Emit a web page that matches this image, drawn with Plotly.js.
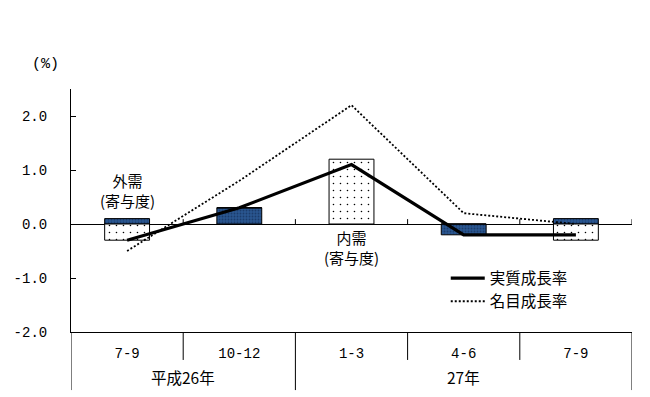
<!DOCTYPE html>
<html>
<head>
<meta charset="utf-8">
<script src="https://cdn.plot.ly/plotly-3.0.1.min.js"></script>
<style>html,body{margin:0;padding:0;background:#fff;}#chart{width:650px;height:397px;}</style>
</head>
<body>
<div id="chart"></div>
<script>
// Data
var quarters = ['7-9', '10-12', '1-3', '4-6', '7-9'];
var years = ['平成26年', '27年'];
var externalDemand = [0.1, 0.3, 0.0, -0.2, 0.1];   // 外需（寄与度）
var domesticDemand = [-0.3, 0.0, 1.2, 0.0, -0.3];  // 内需（寄与度）
var realGrowth = [-0.3, 0.3, 1.1, -0.2, -0.2];     // 実質成長率
var nominalGrowth = [-0.5, 0.8, 2.2, 0.2, 0.0];    // 名目成長率
var yTicks = [-2, -1, 0, 1, 2];

var xs = quarters.map(function (q, i) { return i; });
var JP = '"Noto Sans CJK JP", "DejaVu Sans", sans-serif';
var MONO = '"Liberation Mono", "DejaVu Sans Mono", monospace';
var FSJ = 15.5;

var traces = [
  {
    type: 'bar', x: xs, y: externalDemand, name: '外需', showlegend: false,
    width: 0.4,
    marker: { color: '#27528a', line: { color: '#000', width: 1 },
      pattern: { shape: '.', fgcolor: '#1b3c6b', bgcolor: '#2a5690', size: 3, solidity: 0.3 } },
    hoverinfo: 'skip'
  },
  {
    type: 'bar', x: xs, y: domesticDemand, name: '内需', showlegend: false,
    width: 0.4,
    marker: { color: '#fff', line: { color: '#000', width: 1 },
      pattern: { shape: '.', fgcolor: '#000', bgcolor: '#fff', size: 7, solidity: 0.04 } },
    hoverinfo: 'skip'
  },
  {
    type: 'scatter', mode: 'lines', x: xs, y: realGrowth, name: '実質成長率',
    line: { color: '#000', width: 3.2 }
  },
  {
    type: 'scatter', mode: 'lines', x: xs, y: nominalGrowth, name: '名目成長率',
    line: { color: '#000', width: 1.8, dash: '2px,2px' }
  }
];

var shapes = [];
[0.5, 2.5, 3.5].forEach(function (v) {
  shapes.push({ type: 'line', xref: 'x', yref: 'paper', x0: v, x1: v, y0: 0, y1: -0.115, line: { color: '#000', width: 1 } });
});
[-0.5, 1.5, 4.5].forEach(function (v) {
  shapes.push({ type: 'line', xref: 'x', yref: 'paper', x0: v, x1: v, y0: 0, y1: -0.239, line: { color: '#000', width: 1 } });
});
[0.5, 1.5, 2.5, 3.5, 4.5].forEach(function (v) {
  shapes.push({ type: 'line', xref: 'x', yref: 'y', x0: v, x1: v, y0: 0, y1: 0.09, line: { color: '#000', width: 1 } });
});

function ann(xref, yref, x, y, text, font) {
  return { xref: xref, yref: yref, x: x, y: y, text: text, showarrow: false, xanchor: 'center', yanchor: 'middle',
    font: font };
}
var jpFont = { size: FSJ, family: JP, color: '#000' };
var annotations = [
  ann('paper', 'paper', -0.045, 1.10, '(%)', { size: 15, family: MONO, color: '#000' }),
  ann('x', 'y', 0, 0.62, '外需<br>(寄与度)', { size: 15, family: JP, color: '#000' }),
  ann('x', 'y', 2, -0.43, '内需<br>(寄与度)', { size: 15, family: JP, color: '#000' }),
  ann('x', 'paper', 0.5, -0.185, years[0], jpFont),
  ann('x', 'paper', 3, -0.185, years[1], jpFont)
];

var layout = {
  width: 650, height: 397,
  margin: { l: 71, r: 18, t: 89, b: 65 },
  paper_bgcolor: '#fff', plot_bgcolor: '#fff',
  barmode: 'relative',
  showlegend: true,
  legend: { x: 0.668, y: 0.29, xanchor: 'left', yanchor: 'top', bgcolor: 'rgba(0,0,0,0)',
    font: { size: FSJ, family: JP, color: '#000' }, tracegroupgap: 0, itemwidth: 34 },
  xaxis: {
    range: [-0.5, 4.5], tickvals: xs, ticktext: quarters, showgrid: false, zeroline: false,
    showline: true, linecolor: '#000', linewidth: 1, ticks: '', ticklabelstandoff: 8,
    tickfont: { size: 14, family: MONO, color: '#000' }, fixedrange: true
  },
  yaxis: {
    range: [-2, 2.5], tickvals: yTicks, ticktext: yTicks.map(function (v) { return v.toFixed(1); }),
    showgrid: false, zeroline: true, zerolinecolor: '#000', zerolinewidth: 1,
    showline: true, linecolor: '#000', linewidth: 1, ticks: 'inside', ticklen: 5, tickcolor: '#000',
    ticklabelstandoff: 20,
    tickfont: { size: 14, family: MONO, color: '#000' }, fixedrange: true
  },
  shapes: shapes,
  annotations: annotations
};

Plotly.newPlot('chart', traces, layout, { staticPlot: true });
</script>
</body>
</html>
